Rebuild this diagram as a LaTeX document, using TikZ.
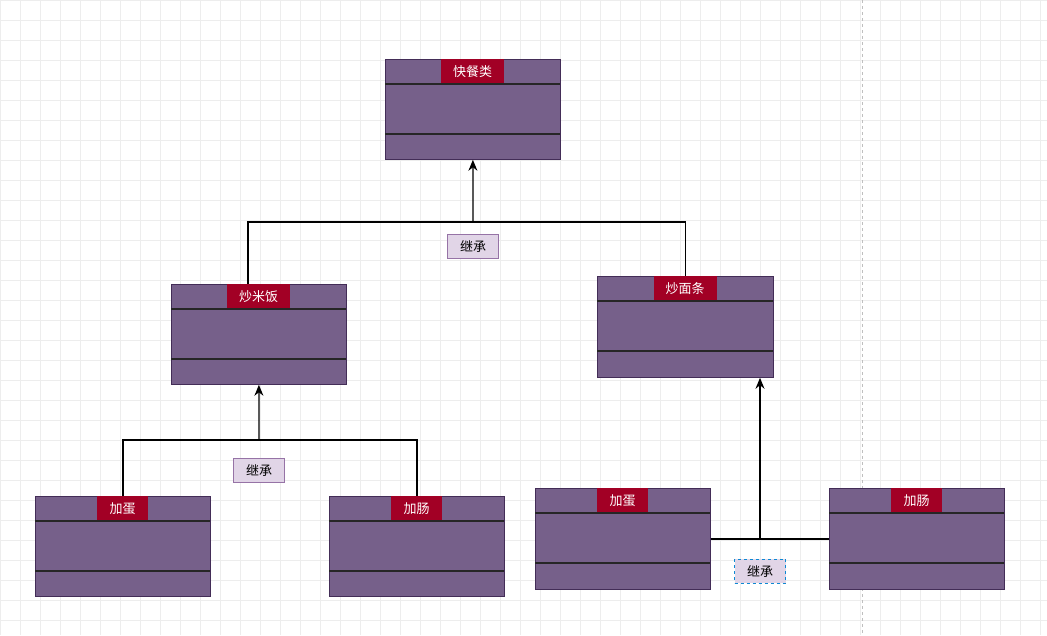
\documentclass[tikz,border=0pt]{standalone}
\usepackage{fontspec}
\setmainfont{Noto Sans CJK SC}
\usetikzlibrary{arrows.meta}
\definecolor{boxfill}{HTML}{76608A}
\definecolor{boxline}{HTML}{432D57}
\definecolor{titlered}{HTML}{A20025}
\definecolor{lbl}{HTML}{E1D5E7}
\definecolor{lblline}{HTML}{9673A6}
\begin{document}
\begin{tikzpicture}[x=1pt,y=-1pt,
  conn/.style={draw=black,line width=1.2pt},
  arr/.style={conn,-{Stealth[length=11pt,width=9pt]}},
  label/.style={draw=lblline,fill=lbl,minimum width=51pt,minimum height=24pt,inner sep=0pt,font=\fontsize{13pt}{14pt}\selectfont},
  ttl/.style={fill=titlered,text=white,minimum height=25pt,inner sep=0pt,anchor=north,font=\fontsize{13pt}{14pt}\selectfont}]
\useasboundingbox (0,0) rectangle (1047,635);
\fill[white] (0,0) rectangle (1047,635);
\foreach \x in {0,20,...,1040} \draw[gray!14,line width=0.5pt] (\x,0) -- (\x,635);
\foreach \y in {0,20,...,630} \draw[gray!14,line width=0.5pt] (0,\y) -- (1047,\y);
\draw[gray!50,dashed,line width=0.6pt] (862,0) -- (862,635);
\newcommand{\umlbox}[8]{%
  \node[draw=boxline,fill=boxfill,line width=0.8pt,inner sep=0pt,minimum width=#4-#2,minimum height=#5-#3,anchor=north west] (#1) at (#2,#3) {};
  \node[ttl,minimum width=#8] (#1t) at ({(#2+#4)/2},#3) {#7};
  \draw[black!85,line width=1.2pt] (#2,#6) -- (#4,#6);
  \draw[black!85,line width=1.2pt] (#2,#6+50) -- (#4,#6+50);
}
\umlbox{kc}{385}{59}{560}{159}{84}{快餐类}{63pt}
\umlbox{cmf}{171}{284}{346}{384}{309}{炒米饭}{63pt}
\umlbox{cmt}{597}{276}{773}{377}{301}{炒面条}{63pt}
\umlbox{jdl}{35}{496}{210}{596}{521}{加蛋}{51pt}
\umlbox{jcl}{329}{496}{504}{596}{521}{加肠}{51pt}
\umlbox{jdr}{535}{488}{710}{589}{513}{加蛋}{51pt}
\umlbox{jcr}{829}{488}{1004}{589}{513}{加肠}{51pt}
% top tree
\coordinate (j1) at (473,222);
\coordinate (s1) at (248,284);
\draw[conn] (s1) |- (j1) -| (cmt.north);
\draw[arr] (j1) -- (kc.south);
\node[label] (l1) at (473,246) {继承};
% left tree
\coordinate (j2) at (259,440);
\draw[conn] (jdl.north) |- (j2) -| (jcl.north);
\draw[arr] (j2) -- (cmf.south);
\node[label] (l2) at (259,470) {继承};
% right tree
\coordinate (j3) at (760,539);
\draw[conn] (jdr.east |- j3) -- (jcr.west |- j3);
\draw[arr] (j3) -- (cmt.south -| j3);
\node[label,draw=cyan!70!blue,dashed] (l3) at (760,571) {继承};
\end{tikzpicture}
\end{document}
